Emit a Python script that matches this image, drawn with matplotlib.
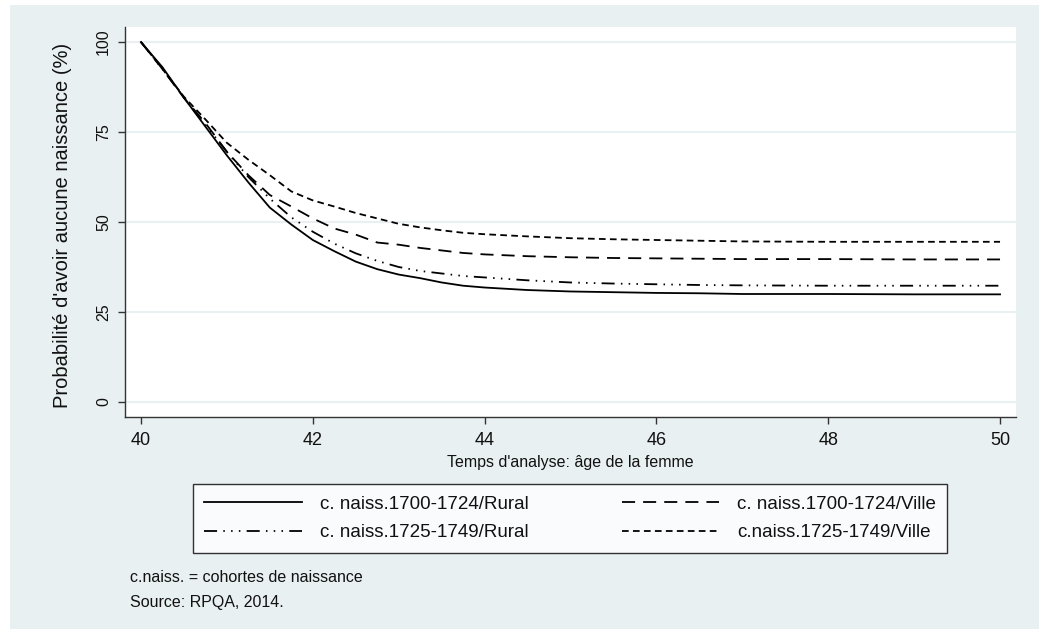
import matplotlib
matplotlib.use("Agg")
import matplotlib.pyplot as plt
from matplotlib.patches import Rectangle

# age of the woman (x) and survival curves (% with no birth)
age = [40.0, 40.25, 40.5, 40.75, 41.0, 41.25, 41.5, 41.75, 42.0, 42.25, 42.5, 42.75,
       43.0, 43.25, 43.5, 43.75, 44.0, 44.5, 45.0, 45.5, 46.0, 46.5, 47.0, 48.0, 49.0, 50.0]

rural_1700 = [100, 93.0, 84.5, 76.5, 68.5, 61.0, 54.0, 49.3, 45.0, 41.9, 39.0, 36.9,
              35.4, 34.4, 33.2, 32.3, 31.8, 31.1, 30.7, 30.5, 30.3, 30.2, 30.0, 30.0, 29.9, 29.9]
ville_1700 = [100, 92.5, 84.5, 77.5, 69.5, 63.0, 57.5, 54.3, 51.0, 48.2, 46.5, 44.3,
              43.7, 42.8, 42.1, 41.4, 41.0, 40.5, 40.2, 40.0, 39.9, 39.8, 39.7, 39.7, 39.6, 39.6]
rural_1725 = [100, 92.5, 84.5, 77.0, 69.5, 62.5, 56.5, 51.3, 47.3, 44.0, 41.3, 39.2,
              37.5, 36.4, 35.7, 35.0, 34.6, 33.8, 33.2, 32.9, 32.7, 32.5, 32.4, 32.3, 32.3, 32.3]
ville_1725 = [100, 92.5, 84.8, 78.5, 72.0, 67.3, 63.0, 58.5, 56.0, 54.3, 52.5, 51.0,
              49.5, 48.5, 47.7, 47.0, 46.6, 46.0, 45.5, 45.2, 45.0, 44.8, 44.6, 44.5, 44.5, 44.5]

labels = ["c. naiss.1700-1724/Rural", "c. naiss.1700-1724/Ville",
          "c. naiss.1725-1749/Rural", "c.naiss.1725-1749/Ville"]
x_ticks = [40, 42, 44, 46, 48, 50]
y_ticks = [0, 25, 50, 75, 100]

bg = "#e9f0f2"
txt = "#111111"
plt.rcParams["font.family"] = ["Liberation Sans", "DejaVu Sans"]
plt.rcParams["lines.scale_dashes"] = False

fig = plt.figure(figsize=(10.39, 6.29), dpi=100)
fig.patch.set_facecolor(bg)
# thin white margin on the left and top, as in the exported graph
fig.patches.append(Rectangle((0, 0), 10 / 1039, 1, transform=fig.transFigure,
                             facecolor="white", edgecolor="none", zorder=-1))
fig.patches.append(Rectangle((0, 1 - 5 / 629), 1, 5 / 629, transform=fig.transFigure,
                             facecolor="white", edgecolor="none", zorder=-1))

ax = fig.add_axes([125 / 1039, 1 - 417 / 629, 891 / 1039, 390 / 629])
ax.set_facecolor("white")

lw = 1.3
h1, = ax.plot(age, rural_1700, color="black", lw=lw, linestyle="-")
h2, = ax.plot(age, ville_1700, color="black", lw=lw, linestyle=(0, (9.4, 5.8)))
h3, = ax.plot(age, rural_1725, color="black", lw=lw,
              linestyle=(0, (9.4, 4.5, 1.1, 4.5, 1.1, 4.5, 1.1, 4.5)))
h4, = ax.plot(age, ville_1725, color="black", lw=lw, linestyle=(0, (4.8, 3.1)))

ax.set_xlim(39.814, 50.186)
ax.set_ylim(-4.17, 104.17)
ax.set_xticks(x_ticks)
ax.set_yticks(y_ticks)
ax.grid(axis="y", color=bg, lw=1.5)
ax.set_axisbelow(True)

for s in ["top", "right"]:
    ax.spines[s].set_visible(False)
for s in ["left", "bottom"]:
    ax.spines[s].set_color("#333333")
    ax.spines[s].set_linewidth(1.0)

ax.tick_params(axis="both", direction="out", length=5, width=1.0, color="#333333",
               labelcolor=txt)
ax.tick_params(axis="x", pad=6, labelsize=13)
ax.tick_params(axis="y", pad=5, labelsize=11.5)
for t in ax.get_yticklabels():
    t.set_rotation(90)
    t.set_verticalalignment("center")

ax.set_xlabel("Temps d'analyse: âge de la femme", fontsize=11.5, color=txt)
ax.xaxis.set_label_coords(0.5, -0.097)
ax.set_ylabel("Probabilité d'avoir aucune naissance (%)", fontsize=14.5, color=txt)
ax.yaxis.set_label_coords(-0.0595, 0.492)

# legend rows: Rural / Ville side by side (matplotlib fills column-wise)
leg = fig.legend([h1, h3, h2, h4], [labels[0], labels[2], labels[1], labels[3]],
                 loc="center", ncol=2, mode="expand",
                 bbox_to_anchor=(193 / 1039, 1 - 554 / 629, 754 / 1039, 71 / 629),
                 fontsize=13.5, handlelength=5.2, handletextpad=0.95,
                 labelspacing=0.62, borderpad=0.6, borderaxespad=0,
                 frameon=True, fancybox=False, edgecolor="black", facecolor="white")
leg.get_frame().set_linewidth(1.0)
for t in leg.get_texts():
    t.set_color(txt)

fig.text(130 / 1039, 1 - 577 / 629, "c.naiss. = cohortes de naissance",
         fontsize=11.5, va="center", ha="left", color=txt)
fig.text(130 / 1039, 1 - 602 / 629, "Source: RPQA, 2014.",
         fontsize=11.5, va="center", ha="left", color=txt)

fig.savefig("out.png", dpi=100, facecolor=fig.get_facecolor())
